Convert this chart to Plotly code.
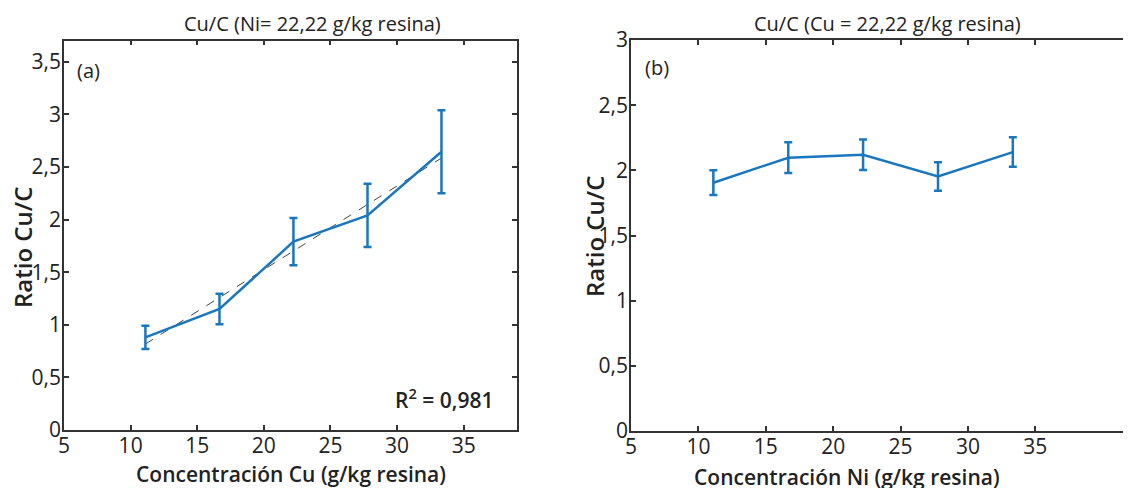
import numpy as np
import plotly.graph_objects as go

# page body has an 8px margin: figure drawn at (8, 8)
OFF = 8
W, H = 1131 - OFF, 488 - OFF

# ---- data ----
conc = [11.11, 16.67, 22.22, 27.78, 33.33]
ratio_a = [0.88, 1.15, 1.79, 2.04, 2.645]
err_a = [0.11, 0.145, 0.225, 0.30, 0.395]
ratio_b = [1.905, 2.097, 2.12, 1.953, 2.14]
err_b = [0.095, 0.118, 0.117, 0.109, 0.113]
r2_text = "R<sup>2</sup> = 0,981"
title_a = "Cu/C (Ni= 22,22 g/kg resina)"
title_b = "Cu/C (Cu = 22,22 g/kg resina)"
xtitle_a = "Concentración Cu (g/kg resina)"
xtitle_b = "Concentración Ni (g/kg resina)"
ytitle = "Ratio Cu/C"
xticks = [5, 10, 15, 20, 25, 30, 35]
yticks_a = [0, 0.5, 1, 1.5, 2, 2.5, 3, 3.5]
yticks_b = [0, 0.5, 1, 1.5, 2, 2.5, 3]

slope, intercept = np.polyfit(conc, ratio_a, 1)
fit_x = [conc[0], conc[-1]]
fit_y = [slope * v + intercept for v in fit_x]

BLUE = "#1a76bd"
AX = "#333333"
FONT = "Open Sans"

def lab(v):
    return ("%g" % v).replace(".", ",")

fig = go.Figure()
fig.add_trace(go.Scatter(x=fit_x, y=fit_y, mode="lines",
                         line=dict(color="#444444", width=1, dash="dash"),
                         xaxis="x", yaxis="y", showlegend=False))
fig.add_trace(go.Scatter(x=conc, y=ratio_a, mode="lines",
                         line=dict(color=BLUE, width=2.5),
                         error_y=dict(type="data", array=err_a, color=BLUE, thickness=2.5, width=4),
                         xaxis="x", yaxis="y", showlegend=False))
fig.add_trace(go.Scatter(x=conc, y=ratio_b, mode="lines",
                         line=dict(color=BLUE, width=2.5),
                         error_y=dict(type="data", array=err_b, color=BLUE, thickness=2.5, width=4),
                         xaxis="x2", yaxis="y2", showlegend=False))

def px(x):
    return (x - OFF) / W

def py(y):
    return (H - (y - OFF)) / H

axcommon = dict(showline=True, linecolor=AX, linewidth=1.5, mirror="ticks",
                ticks="inside", ticklen=5, tickwidth=1.5, tickcolor=AX,
                showgrid=False, zeroline=False, automargin=False,
                tickfont=dict(family=FONT, size=21, color="#222222"))
xcommon = dict(ticklabelstandoff=-4, **axcommon)
ycommon = dict(ticklabelstandoff=-3, **axcommon)

fig.update_layout(
    width=W, height=H, margin=dict(l=0, r=0, t=0, b=0),
    template="none",
    paper_bgcolor="white", plot_bgcolor="white",
    xaxis=dict(domain=[px(64), px(517)], range=[5, 39], anchor="y",
               tickvals=xticks, ticktext=[lab(v) for v in xticks], **xcommon),
    yaxis=dict(domain=[py(430), py(40.7)], range=[0, 3.7], anchor="x",
               tickvals=yticks_a, ticktext=[lab(v) for v in yticks_a], **ycommon),
    xaxis2=dict(domain=[px(631), 1.0], range=[5, 42.1], anchor="y2",
                tickvals=xticks, ticktext=[lab(v) for v in xticks], **xcommon),
    yaxis2=dict(domain=[py(431), py(40)], range=[0, 3], anchor="x2",
                tickvals=yticks_b, ticktext=[lab(v) for v in yticks_b], **ycommon),
)

def ann(text, x, y, size, weight=400, angle=0, color="#222222"):
    fig.add_annotation(text=text, x=px(x), y=py(y), xref="paper", yref="paper",
                       xanchor="center", yanchor="middle", showarrow=False,
                       textangle=angle,
                       font=dict(family=FONT, size=size, color=color, weight=weight))

ann(title_a, 312, 24, 20)
ann(title_b, 887, 24, 20)
ann(xtitle_a, 291, 474, 21, 600)
ann(xtitle_b, 847, 477, 21, 600)
ann(ytitle, 22, 248, 24, 600, -90)
ann(ytitle, 594, 237, 24, 600, -90)
ann("(a)", 88, 71, 20)
ann("(b)", 657, 67, 20)
ann(r2_text, 444, 398, 21, 600)

fig.write_html("out.html")
